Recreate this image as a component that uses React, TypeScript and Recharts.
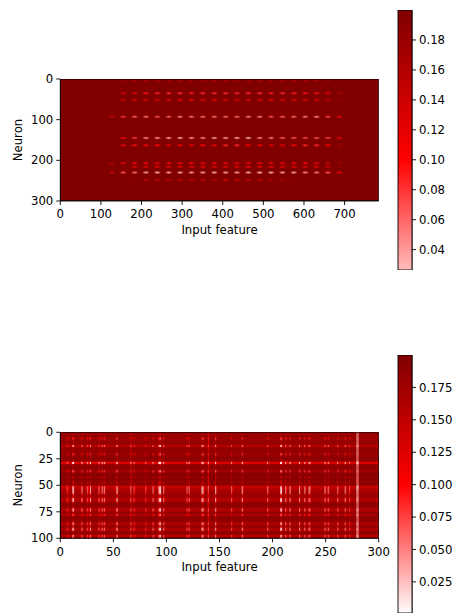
import { ScatterChart, Scatter, XAxis, YAxis, ReferenceArea } from 'recharts';

const FONT = '"DejaVu Sans", sans-serif';

// first weight matrix: blobs on a 28 px input grid
const inputCols = [127, 155, 183, 211, 239, 267, 295, 323, 351, 379, 407, 435, 463, 491, 519, 547, 575, 603, 631, 659, 687];
const neuronRows = [4, 35, 52, 93, 145, 163, 207, 216, 230, 248];
const neuronValues = [
  [0.2, 0.185, 0.17, 0.17, 0.17, 0.17, 0.17, 0.17, 0.17, 0.17, 0.17, 0.17, 0.17, 0.17, 0.17, 0.17, 0.17, 0.165, 0.165, 0.175, 0.2],
  [0.2, 0.13, 0.12, 0.095, 0.09, 0.085, 0.085, 0.09, 0.085, 0.085, 0.085, 0.085, 0.085, 0.085, 0.09, 0.085, 0.09, 0.095, 0.095, 0.12, 0.17],
  [0.185, 0.135, 0.125, 0.125, 0.125, 0.125, 0.115, 0.115, 0.12, 0.115, 0.125, 0.125, 0.125, 0.12, 0.12, 0.125, 0.125, 0.125, 0.125, 0.15, 0.185],
  [0.15, 0.08, 0.065, 0.06, 0.07, 0.065, 0.055, 0.06, 0.06, 0.06, 0.06, 0.06, 0.055, 0.055, 0.07, 0.065, 0.06, 0.055, 0.05, 0.075, 0.115],
  [0.2, 0.1, 0.08, 0.05, 0.045, 0.04, 0.035, 0.045, 0.05, 0.04, 0.04, 0.035, 0.03, 0.05, 0.055, 0.065, 0.07, 0.075, 0.07, 0.08, 0.115],
  [0.2, 0.11, 0.095, 0.1, 0.1, 0.11, 0.105, 0.105, 0.1, 0.105, 0.085, 0.085, 0.1, 0.105, 0.115, 0.125, 0.1, 0.085, 0.085, 0.11, 0.175],
  [0.16, 0.115, 0.11, 0.105, 0.11, 0.105, 0.1, 0.105, 0.11, 0.11, 0.11, 0.11, 0.11, 0.11, 0.11, 0.11, 0.11, 0.105, 0.11, 0.125, 0.175],
  [0.2, 0.2, 0.12, 0.12, 0.115, 0.115, 0.115, 0.12, 0.12, 0.12, 0.115, 0.12, 0.115, 0.115, 0.115, 0.12, 0.12, 0.12, 0.125, 0.145, 0.185],
  [0.13, 0.07, 0.06, 0.04, 0.035, 0.04, 0.035, 0.04, 0.04, 0.035, 0.04, 0.04, 0.035, 0.03, 0.035, 0.04, 0.04, 0.05, 0.055, 0.07, 0.11],
  [0.2, 0.2, 0.185, 0.145, 0.15, 0.15, 0.14, 0.15, 0.15, 0.16, 0.13, 0.145, 0.14, 0.145, 0.16, 0.175, 0.185, 0.19, 0.19, 0.2, 0.2],
];

const topXTicks = [0, 100, 200, 300, 400, 500, 600, 700];
const topYTicks = [0, 100, 200, 300];
const topBarTicks = [0.04, 0.06, 0.08, 0.1, 0.12, 0.14, 0.16, 0.18];

// second weight matrix: per row level, per row spike strength, spike columns
const rowLevels = [
  0.178, 0.178, 0.178, 0.177, 0.176, 0.172, 0.172, 0.18, 0.182, 0.182,
  0.18, 0.178, 0.158, 0.16, 0.182, 0.184, 0.182, 0.184, 0.182, 0.18,
  0.172, 0.174, 0.186, 0.188, 0.187, 0.188, 0.186, 0.174, 0.122, 0.128,
  0.178, 0.188, 0.188, 0.188, 0.187, 0.182, 0.166, 0.17, 0.188, 0.192,
  0.192, 0.192, 0.184, 0.192, 0.192, 0.192, 0.19, 0.184, 0.19, 0.188,
  0.168, 0.13, 0.134, 0.145, 0.155, 0.16, 0.17, 0.17, 0.172, 0.18,
  0.178, 0.174, 0.162, 0.156, 0.166, 0.162, 0.18, 0.186, 0.188, 0.188,
  0.186, 0.178, 0.152, 0.155, 0.162, 0.184, 0.182, 0.166, 0.166, 0.184,
  0.19, 0.19, 0.19, 0.188, 0.182, 0.156, 0.154, 0.162, 0.184, 0.18,
  0.162, 0.16, 0.164, 0.184, 0.186, 0.186, 0.18, 0.154, 0.152, 0.156,
];
const rowSpikes = [
  0, 0, 0, 0, 0.1, 0.55, 0.6, 0.1, 0, 0,
  0, 0.1, 0.8, 0.75, 0.1, 0, 0, 0, 0, 0.1,
  0.6, 0.55, 0.1, 0, 0, 0, 0, 0.3, 1, 0.95,
  0.15, 0, 0, 0, 0, 0.2, 0.7, 0.7, 0.1, 0,
  0, 0.1, 0.3, 0.05, 0, 0.05, 0.15, 0.35, 0.1, 0.1,
  0.3, 0.8, 0.9, 0.95, 0.95, 0.95, 0.9, 0.95, 0.5, 0.15,
  0.2, 0.3, 0.75, 0.85, 0.9, 0.85, 0.3, 0.05, 0, 0,
  0.1, 0.5, 0.85, 0.9, 0.7, 0.2, 0.15, 0.55, 0.5, 0.1,
  0, 0, 0, 0.05, 0.2, 0.7, 0.8, 0.7, 0.2, 0.3,
  0.85, 0.9, 0.8, 0.15, 0, 0, 0.3, 0.75, 0.7, 0.6,
];
const spikeCols = [
  6, 7, 11, 12, 19, 20, 25, 26, 27, 28, 36, 37, 39, 41, 42, 52, 53, 66, 69, 70, 80, 81, 87, 88,
  92, 93, 94, 97, 98, 119, 120, 121, 133, 134, 135, 139, 146, 147, 161, 162, 171, 172, 195, 196,
  207, 208, 209, 212, 213, 216, 225, 226, 230, 231, 234, 235, 249, 250, 252, 253, 261, 262, 268,
  269, 272, 273, 279, 280,
];
const spikeStrengths = [
  0.5, 0.25, 0.7, 0.9, 0.15, 0.75, 0.6, 0.3, 0.25, 0.85, 0.65, 0.3, 0.7, 0.8, 0.25, 0.3, 0.9, 0.4, 0.55, 0.25, 0.5, 0.15, 0.75, 0.15,
  0.55, 0.9, 1, 0.75, 0.15, 0.65, 0.15, 0.65, 0.8, 1, 0.35, 0.15, 0.8, 0.15, 0.65, 0.15, 0.85, 0.25, 0.75, 0.15,
  0.85, 1, 0.15, 0.8, 0.25, 0.8, 0.85, 0.15, 0.8, 0.15, 0.85, 0.55, 0.8, 0.2, 0.75, 0.15, 0.75, 0.15, 0.8,
  0.15, 0.5, 0.15, 0, 0,
];
const columnWash = [
  0.01, 0, 0.01, 0.01, 0, 0.01, 0.01, 0, 0, 0.01, 0.01, 0, 0.01, 0.01, 0, 0, 0.02, 0.04, 0.01, 0, 0.01, 0, 0.01, 0,
  0.01, 0.015, 0.02, 0.01, 0, 0.01, 0, 0.01, 0.01, 0.015, 0, 0.07, 0.035, 0, 0.01, 0, 0.015, 0, 0.01, 0,
  0.01, 0.015, 0, 0.01, 0, 0.01, 0.01, 0, 0.01, 0, 0.01, 0, 0.01, 0, 0.01, 0, 0.01, 0, 0.01,
  0, 0.01, 0, 0.135, 0.135,
];

const bottomXTicks = [0, 50, 100, 150, 200, 250, 300];
const bottomYTicks = [0, 25, 50, 75, 100];
const bottomBarTicks = [0.025, 0.05, 0.075, 0.1, 0.125, 0.15, 0.175];

// white -> red -> dark red, red sits at 0.1
const colorOf = (v: number) => {
  if (v <= 0.1) {
    const g = Math.round(255 * (1 - Math.max(v, 0) / 0.1));
    return `rgb(255,${g},${g})`;
  }
  return `rgb(${Math.round(255 - 127 * Math.min((v - 0.1) / 0.1, 1))},0,0)`;
};

const topPoints = neuronRows.flatMap((y, r) =>
  inputCols.map((x, c) => ({ x, y, v: neuronValues[r][c] })).filter((p) => p.v < 0.195),
);

const bottomCells = rowLevels.flatMap((level, r) =>
  spikeCols.map((c, i) => ({
    x: c,
    y: r,
    v: level - level * rowSpikes[r] * spikeStrengths[i] - columnWash[i],
  })),
);

const FONT_SIZE = 11.7;

const axisProps = {
  stroke: '#000',
  tickSize: 4,
  tickMargin: 3,
  tick: { fill: '#000', fontSize: FONT_SIZE, fontFamily: FONT },
  tickLine: { stroke: '#000', strokeWidth: 0.9 },
  axisLine: { stroke: '#000', strokeWidth: 0.9 },
  interval: 0 as const,
  allowDataOverflow: true,
};

const labelStyle = { fill: '#000', fontSize: FONT_SIZE, fontFamily: FONT };

const PLOT_LEFT = 60.3;
const PLOT_WIDTH = 318.4;
const Y_AXIS_W = 40;
const X_AXIS_H = 36;

const Frame = ({ cx, cy, width, height, fill = 'none' }: any) => (
  <rect x={cx} y={cy} width={width} height={height} fill={fill} stroke="#000" strokeWidth={0.9} />
);

const Blob = ({ cx, cy, payload }: any) => {
  const id = `blob-${payload.x}-${payload.y}`;
  const color = colorOf(payload.v);
  return (
    <g>
      <defs>
        <radialGradient id={id}>
          <stop offset="0%" stopColor={color} />
          <stop offset="40%" stopColor={color} stopOpacity={0.7} />
          <stop offset="100%" stopColor={color} stopOpacity={0} />
        </radialGradient>
      </defs>
      <ellipse cx={cx} cy={cy} rx={3.8} ry={1.7} fill={`url(#${id})`} />
    </g>
  );
};

const Cell = ({ cx, cy, payload, cellW, cellH }: any) => (
  <rect x={cx} y={cy} width={cellW} height={cellH} fill={colorOf(payload.v)} />
);

type BarProps = { top: number; height: number; min: number; ticks: number[]; digits: number; id: string };

const ColorBar = ({ top, height, min, ticks, digits, id }: BarProps) => {
  const redAt = ((0.2 - 0.1) / (0.2 - min)) * 100;
  return (
    <div style={{ position: 'absolute', left: 380, top: top - 5 }}>
      <ScatterChart width={76} height={height + 10} margin={{ top: 5, bottom: 5, left: 18, right: 0 }}>
        <defs>
          <linearGradient id={id} x1="0" y1="0" x2="0" y2="1">
            <stop offset="0%" stopColor="#800000" />
            <stop offset={`${redAt}%`} stopColor="#ff0000" />
            <stop offset="100%" stopColor={colorOf(min)} />
          </linearGradient>
        </defs>
        <XAxis type="number" dataKey="x" domain={[0, 1]} hide />
        <YAxis
          {...axisProps}
          type="number"
          dataKey="y"
          orientation="right"
          width={44}
          domain={[min, 0.2]}
          ticks={ticks}
          tickFormatter={(v: number) => v.toFixed(digits)}
        />
        <Scatter
          data={[{ x: 0, y: 0.2 }]}
          isAnimationActive={false}
          shape={<Frame width={14} height={height} fill={`url(#${id})`} />}
        />
      </ScatterChart>
    </div>
  );
};

const TopHeatmap = () => {
  const plotTop = 79;
  const plotHeight = 122;
  const chartH = 260;
  return (
    <div style={{ position: 'absolute', left: 0, top: 0 }}>
      <ScatterChart
        width={456}
        height={chartH}
        margin={{
          top: plotTop,
          left: PLOT_LEFT - Y_AXIS_W,
          right: 456 - PLOT_LEFT - PLOT_WIDTH,
          bottom: chartH - plotTop - plotHeight - X_AXIS_H,
        }}
      >
        <XAxis
          {...axisProps}
          type="number"
          dataKey="x"
          domain={[0, 784]}
          ticks={topXTicks}
          height={X_AXIS_H}
          tickMargin={5}
          label={{ value: 'Input feature', position: 'insideBottom', offset: 3, style: labelStyle }}
        />
        <YAxis
          {...axisProps}
          type="number"
          dataKey="y"
          reversed
          domain={[0, 300]}
          ticks={topYTicks}
          width={Y_AXIS_W}
          label={{ value: 'Neuron', angle: -90, position: 'insideLeft', offset: -2, style: { ...labelStyle, textAnchor: 'middle' } }}
        />
        <ReferenceArea x1={0} x2={784} y1={0} y2={300} fill="#800000" fillOpacity={1} />
        <Scatter data={topPoints} isAnimationActive={false} shape={<Blob />} />
        <Scatter
          data={[{ x: 0, y: 0 }]}
          isAnimationActive={false}
          shape={<Frame width={PLOT_WIDTH} height={plotHeight} />}
        />
      </ScatterChart>
    </div>
  );
};

const BottomHeatmap = () => {
  const plotTop = 432.3;
  const plotHeight = 106;
  const top = 340;
  const chartH = 240;
  return (
    <div style={{ position: 'absolute', left: 0, top }}>
      <ScatterChart
        width={456}
        height={chartH}
        margin={{
          top: plotTop - top,
          left: PLOT_LEFT - Y_AXIS_W,
          right: 456 - PLOT_LEFT - PLOT_WIDTH,
          bottom: chartH - (plotTop - top) - plotHeight - X_AXIS_H,
        }}
      >
        <XAxis
          {...axisProps}
          type="number"
          dataKey="x"
          domain={[0, 300]}
          ticks={bottomXTicks}
          height={X_AXIS_H}
          tickMargin={5}
          label={{ value: 'Input feature', position: 'insideBottom', offset: 3, style: labelStyle }}
        />
        <YAxis
          {...axisProps}
          type="number"
          dataKey="y"
          reversed
          domain={[0, 100]}
          ticks={bottomYTicks}
          width={Y_AXIS_W}
          label={{ value: 'Neuron', angle: -90, position: 'insideLeft', offset: -2, style: { ...labelStyle, textAnchor: 'middle' } }}
        />
        <ReferenceArea x1={0} x2={300} y1={0} y2={100} fill="#8c0000" fillOpacity={1} />
        {rowLevels.map((level, r) => (
          <ReferenceArea key={r} x1={0} x2={300} y1={r} y2={r + 1} fill={colorOf(level)} fillOpacity={1} />
        ))}
        <Scatter
          data={bottomCells}
          isAnimationActive={false}
          shape={<Cell cellW={PLOT_WIDTH / 300} cellH={plotHeight / 100} />}
        />
        <Scatter
          data={[{ x: 0, y: 0 }]}
          isAnimationActive={false}
          shape={<Frame width={PLOT_WIDTH} height={plotHeight} />}
        />
      </ScatterChart>
    </div>
  );
};

export default function App() {
  return (
    <div style={{ position: 'absolute', left: 0, top: 0, width: 456, height: 615, background: '#fff', overflow: 'hidden' }}>
      <TopHeatmap />
      <ColorBar top={10} height={260} min={0.0264} ticks={topBarTicks} digits={2} id="bar-top" />
      <BottomHeatmap />
      <ColorBar top={355} height={258} min={0.001} ticks={bottomBarTicks} digits={3} id="bar-bottom" />
    </div>
  );
}
